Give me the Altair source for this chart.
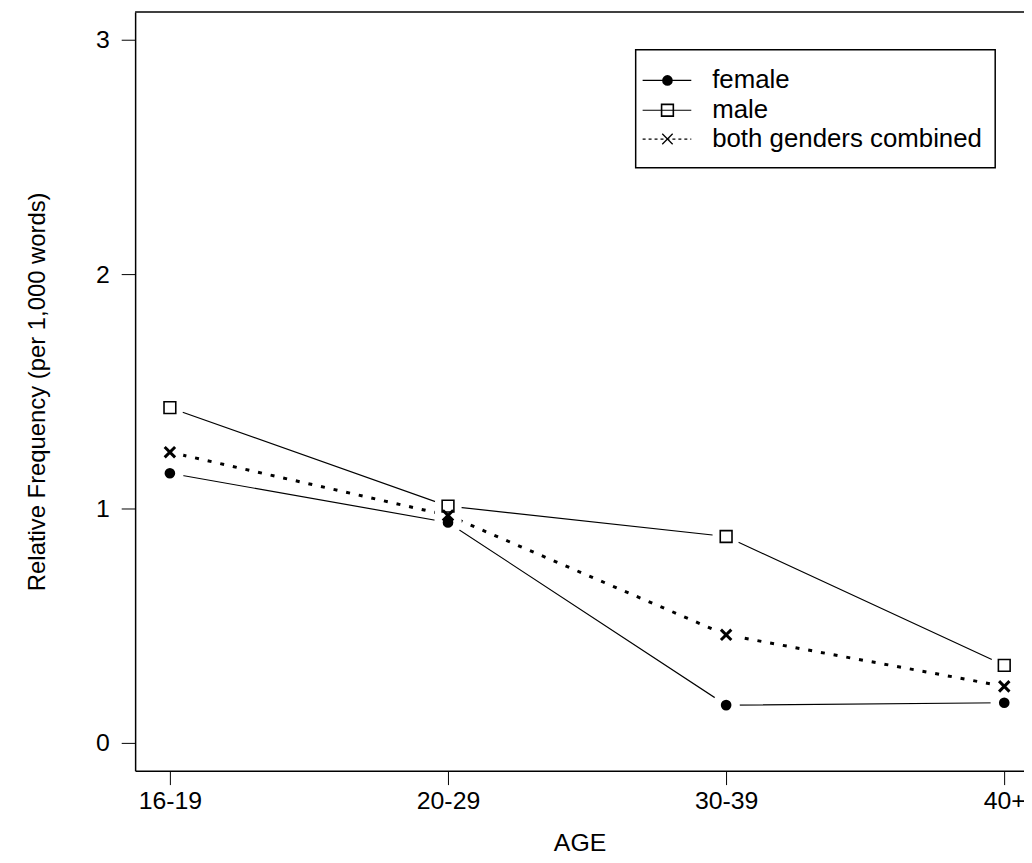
import json
import altair as alt
import pandas as pd

# ---- data ----
age_labels = ["16-19", "20-29", "30-39", "40+"]
series_names = ["female", "male", "both genders combined"]
female = [1.15, 0.94, 0.16, 0.17]
male = [1.43, 1.01, 0.88, 0.33]
combined = [1.24, 0.97, 0.46, 0.24]
y_ticks = [0, 1, 2, 3]

values_by_series = {"female": female, "male": male, "both genders combined": combined}
rows = []
for s in series_names:
    for i, (lab, v) in enumerate(zip(age_labels, values_by_series[s])):
        rows.append({"series": s, "idx": i + 1, "age": lab, "value": v})
df = pd.DataFrame(rows)

# ---- layout / style ----
W, H = 895, 764
FONT = "Liberation Sans"
FS = 25
X_DOMAIN = [0.875, 4.071]
Y_DOMAIN = [-0.12, 3.12]

label_expr = "%s[datum.value - 1]" % json.dumps(age_labels)

x_enc = alt.X(
    "idx:Q",
    scale=alt.Scale(domain=X_DOMAIN, nice=False, zero=False),
    axis=alt.Axis(
        values=[1, 2, 3, 4], labelExpr=label_expr, title="AGE", grid=False,
        tickSize=14, tickColor="black", domainColor="black", domainWidth=1.5,
        labelFont=FONT, labelFontSize=FS, labelColor="black", labelPadding=4,
        titleFont=FONT, titleFontSize=FS, titleFontWeight="normal", titleColor="black",
        titlePadding=17, labelFlush=False,
    ),
)
y_enc = alt.Y(
    "value:Q",
    scale=alt.Scale(domain=Y_DOMAIN, nice=False, zero=False),
    axis=alt.Axis(
        values=y_ticks, title="Relative Frequency (per 1,000 words)", grid=False,
        tickSize=14, tickColor="black", domainColor="black", domainWidth=1.5,
        labelFont=FONT, labelFontSize=FS, labelColor="black", labelPadding=12,
        labelAngle=0, format="d",
        titleFont=FONT, titleFontSize=24, titleFontWeight="normal", titleColor="black",
        titlePadding=46,
    ),
)

base = alt.Chart(df)

line_styles = {
    "female": dict(strokeWidth=1.2),
    "male": dict(strokeWidth=1.2),
    "both genders combined": dict(strokeWidth=3, strokeDash=[4, 9]),
}
marker_styles = {
    "female": dict(shape="circle", filled=True, size=115, color="black", opacity=1),
    "male": dict(shape="square", filled=False, size=140, color="black", strokeWidth=1.6, opacity=1),
    "both genders combined": dict(shape="M-1,-1L1,1M-1,1L1,-1", filled=False, size=110,
                                   color="black", strokeWidth=3, opacity=1),
}
legend_line_styles = {
    "female": dict(strokeWidth=1.2),
    "male": dict(strokeWidth=1.2),
    "both genders combined": dict(strokeWidth=1.2, strokeDash=[3, 3]),
}
legend_marker_styles = {
    "female": marker_styles["female"],
    "male": marker_styles["male"],
    "both genders combined": dict(shape="M-1,-1L1,1M-1,1L1,-1", filled=False, size=110,
                                   color="black", strokeWidth=1.3, opacity=1),
}

layers = []
for s in series_names:
    layers.append(
        base.transform_filter(alt.datum.series == s)
        .mark_line(color="black", **line_styles[s])
        .encode(x=x_enc, y=y_enc)
    )
# white halos to make the gaps of R's type="b"
layers.append(
    base.mark_point(shape="circle", filled=True, color="white", opacity=1, size=760)
    .encode(x="idx:Q", y="value:Q")
)
for s in series_names:
    layers.append(
        base.transform_filter(alt.datum.series == s)
        .mark_point(**marker_styles[s])
        .encode(x="idx:Q", y="value:Q")
    )

# top border of the box
one = alt.Data(values=[{}])
layers.append(
    alt.Chart(one).mark_rule(color="black", strokeWidth=1.5)
    .encode(x=alt.value(0), x2=alt.value(W), y=alt.value(0))
)

# ---- legend ----
LX0, LX1, LY0, LY1 = 504, 866, 38, 157
layers.append(
    alt.Chart(one).mark_rect(fill="white", stroke="black", strokeWidth=1.5)
    .encode(x=alt.value(LX0), x2=alt.value(LX1), y=alt.value(LY0), y2=alt.value(LY1))
)
entry_y = [69, 99, 128]
for s, ey in zip(series_names, entry_y):
    layers.append(
        alt.Chart(one).mark_rule(color="black", **legend_line_styles[s])
        .encode(x=alt.value(511), x2=alt.value(560), y=alt.value(ey))
    )
    layers.append(
        alt.Chart(one).mark_point(**legend_marker_styles[s])
        .encode(x=alt.value(536), y=alt.value(ey))
    )
    layers.append(
        alt.Chart(one).mark_text(text=s, align="left", baseline="middle", font=FONT,
                                 fontSize=26, color="black")
        .encode(x=alt.value(581), y=alt.value(ey))
    )

chart = (
    alt.layer(*layers)
    .properties(
        width=W, height=H,
        autosize=alt.AutoSizeParams(type="none"),
        padding={"left": 128, "top": 1, "right": 0, "bottom": 89},
        background="white",
    )
    .configure_view(stroke=None)
)

chart.save("out.html", embed_options={"renderer": "svg", "actions": False})
